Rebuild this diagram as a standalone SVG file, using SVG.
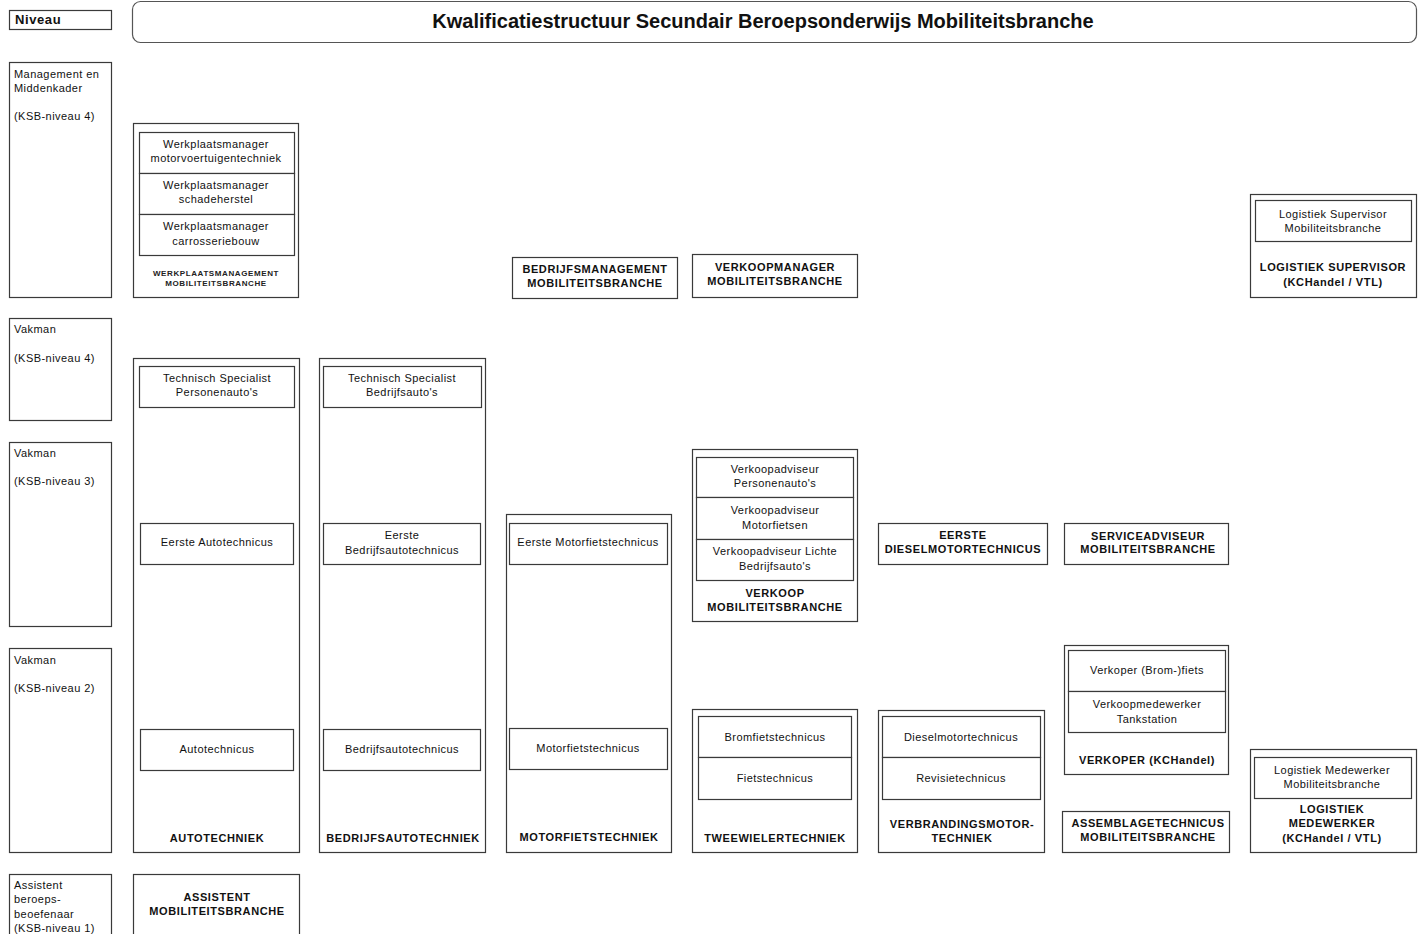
<svg xmlns="http://www.w3.org/2000/svg" width="1419" height="934" viewBox="0 0 1419 934">
<style>
.b{fill:#fff;stroke:#3a3a3a;stroke-width:1.2}
.t{font-family:"Liberation Sans",Arial,sans-serif;font-size:11px;letter-spacing:0.45px;fill:#111;text-anchor:middle;dominant-baseline:central}
.l{font-family:"Liberation Sans",Arial,sans-serif;font-size:11px;letter-spacing:0.45px;fill:#111;dominant-baseline:central}
.h{font-family:"Liberation Sans",Arial,sans-serif;font-size:11px;font-weight:bold;letter-spacing:0.6px;fill:#111;text-anchor:middle;dominant-baseline:central}
.s{font-family:"Liberation Sans",Arial,sans-serif;font-size:8px;font-weight:bold;letter-spacing:0.6px;fill:#222;text-anchor:middle;dominant-baseline:central}
</style>
<rect x="0" y="0" width="1419" height="934" fill="#fff"/>
<g id="connectors"/>

<g id="niveau">
<rect class="b" x="9.5" y="10.5" width="102" height="19"/>
<text x="15" y="19" font-family="Liberation Sans,Arial,sans-serif" font-size="13" font-weight="bold" letter-spacing="0.6" dominant-baseline="central" fill="#111">Niveau</text>
</g>
<g id="title">
<rect x="132.5" y="1.5" width="1284" height="41" rx="8" fill="#fff" stroke="#555" stroke-width="1.2"/>
<text x="763" y="21" font-family="Liberation Sans,Arial,sans-serif" font-size="20" font-weight="bold" text-anchor="middle" dominant-baseline="central" fill="#111">Kwalificatiestructuur Secundair Beroepsonderwijs Mobiliteitsbranche</text>
</g>

<g id="lvl-management">
<rect class="b" x="9.5" y="62.5" width="102" height="235"/>
<text class="l" x="14" y="74">Management en</text>
<text class="l" x="14" y="88">Middenkader</text>
<text class="l" x="14" y="116">(KSB-niveau 4)</text>
</g>
<g id="lvl-vakman4">
<rect class="b" x="9.5" y="318.5" width="102" height="102"/>
<text class="l" x="14" y="329">Vakman</text>
<text class="l" x="14" y="358">(KSB-niveau 4)</text>
</g>
<g id="lvl-vakman3">
<rect class="b" x="9.5" y="442.5" width="102" height="184"/>
<text class="l" x="14" y="453">Vakman</text>
<text class="l" x="14" y="481">(KSB-niveau 3)</text>
</g>
<g id="lvl-vakman2">
<rect class="b" x="9.5" y="648.5" width="102" height="204"/>
<text class="l" x="14" y="660">Vakman</text>
<text class="l" x="14" y="688">(KSB-niveau 2)</text>
</g>
<g id="lvl-assistent">
<rect class="b" x="9.5" y="874.5" width="102" height="70"/>
<text class="l" x="14" y="885">Assistent</text>
<text class="l" x="14" y="899">beroeps-</text>
<text class="l" x="14" y="914">beoefenaar</text>
<text class="l" x="14" y="928">(KSB-niveau 1)</text>
</g>

<g id="werkplaatsmanagement">
<rect class="b" x="133.5" y="123.5" width="165" height="174"/>
<rect class="b" x="139.5" y="132.5" width="155" height="41"/>
<rect class="b" x="139.5" y="173.5" width="155" height="41"/>
<rect class="b" x="139.5" y="214.5" width="155" height="41"/>
<text class="t" x="216" y="144">Werkplaatsmanager</text>
<text class="t" x="216" y="158">motorvoertuigentechniek</text>
<text class="t" x="216" y="185">Werkplaatsmanager</text>
<text class="t" x="216" y="199">schadeherstel</text>
<text class="t" x="216" y="226">Werkplaatsmanager</text>
<text class="t" x="216" y="241">carrosseriebouw</text>
<text class="s" x="216" y="273">WERKPLAATSMANAGEMENT</text>
<text class="s" x="216" y="283">MOBILITEITSBRANCHE</text>
</g>

<g id="bedrijfsmanagement">
<rect class="b" x="512.5" y="257.5" width="165" height="41"/>
<text class="h" x="595" y="269">BEDRIJFSMANAGEMENT</text>
<text class="h" x="595" y="283">MOBILITEITSBRANCHE</text>
</g>
<g id="verkoopmanager">
<rect class="b" x="692.5" y="254.5" width="165" height="43"/>
<text class="h" x="775" y="267">VERKOOPMANAGER</text>
<text class="h" x="775" y="281">MOBILITEITSBRANCHE</text>
</g>

<g id="logistiek-supervisor">
<rect class="b" x="1250.5" y="194.5" width="166" height="103"/>
<rect class="b" x="1255.5" y="200.5" width="156" height="41"/>
<text class="t" x="1333" y="214">Logistiek Supervisor</text>
<text class="t" x="1333" y="228">Mobiliteitsbranche</text>
<text class="h" x="1333" y="267">LOGISTIEK SUPERVISOR</text>
<text class="h" x="1333" y="282">(KCHandel / VTL)</text>
</g>

<g id="autotechniek">
<rect class="b" x="133.5" y="358.5" width="166" height="494"/>
<rect class="b" x="139.5" y="366.5" width="155" height="41"/>
<text class="t" x="217" y="378">Technisch Specialist</text>
<text class="t" x="217" y="392">Personenauto's</text>
<rect class="b" x="140.5" y="523.5" width="153" height="41"/>
<text class="t" x="217" y="542">Eerste Autotechnicus</text>
<rect class="b" x="140.5" y="729.5" width="153" height="41"/>
<text class="t" x="217" y="749">Autotechnicus</text>
<text class="h" x="217" y="838">AUTOTECHNIEK</text>
</g>

<g id="bedrijfsautotechniek">
<rect class="b" x="319.5" y="358.5" width="166" height="494"/>
<rect class="b" x="323.5" y="366.5" width="158" height="41"/>
<text class="t" x="402" y="378">Technisch Specialist</text>
<text class="t" x="402" y="392">Bedrijfsauto's</text>
<rect class="b" x="323.5" y="523.5" width="157" height="41"/>
<text class="t" x="402" y="535">Eerste</text>
<text class="t" x="402" y="550">Bedrijfsautotechnicus</text>
<rect class="b" x="323.5" y="729.5" width="157" height="41"/>
<text class="t" x="402" y="749">Bedrijfsautotechnicus</text>
<text class="h" x="403" y="838">BEDRIJFSAUTOTECHNIEK</text>
</g>

<g id="motorfietstechniek">
<rect class="b" x="506.5" y="514.5" width="165" height="338"/>
<rect class="b" x="509.5" y="523.5" width="158" height="41"/>
<text class="t" x="588" y="542">Eerste Motorfietstechnicus</text>
<rect class="b" x="509.5" y="728.5" width="158" height="41"/>
<text class="t" x="588" y="748">Motorfietstechnicus</text>
<text class="h" x="589" y="837">MOTORFIETSTECHNIEK</text>
</g>

<g id="verkoop">
<rect class="b" x="692.5" y="449.5" width="165" height="172"/>
<rect class="b" x="696.5" y="457.5" width="157" height="40"/>
<rect class="b" x="696.5" y="497.5" width="157" height="42"/>
<rect class="b" x="696.5" y="539.5" width="157" height="41"/>
<text class="t" x="775" y="469">Verkoopadviseur</text>
<text class="t" x="775" y="483">Personenauto's</text>
<text class="t" x="775" y="510">Verkoopadviseur</text>
<text class="t" x="775" y="525">Motorfietsen</text>
<text class="t" x="775" y="551">Verkoopadviseur Lichte</text>
<text class="t" x="775" y="566">Bedrijfsauto's</text>
<text class="h" x="775" y="593">VERKOOP</text>
<text class="h" x="775" y="607">MOBILITEITSBRANCHE</text>
</g>

<g id="eerste-dieselmotortechnicus">
<rect class="b" x="878.5" y="523.5" width="169" height="41"/>
<text class="h" x="963" y="535">EERSTE</text>
<text class="h" x="963" y="549">DIESELMOTORTECHNICUS</text>
</g>
<g id="serviceadviseur">
<rect class="b" x="1064.5" y="523.5" width="164" height="41"/>
<text class="h" x="1148" y="536">SERVICEADVISEUR</text>
<text class="h" x="1148" y="549">MOBILITEITSBRANCHE</text>
</g>

<g id="tweewielertechniek">
<rect class="b" x="692.5" y="709.5" width="165" height="143"/>
<rect class="b" x="698.5" y="716.5" width="153" height="41"/>
<rect class="b" x="698.5" y="757.5" width="153" height="42"/>
<text class="t" x="775" y="737">Bromfietstechnicus</text>
<text class="t" x="775" y="778">Fietstechnicus</text>
<text class="h" x="775" y="838">TWEEWIELERTECHNIEK</text>
</g>

<g id="verbrandingsmotortechniek">
<rect class="b" x="878.5" y="710.5" width="166" height="142"/>
<rect class="b" x="882.5" y="716.5" width="158" height="41"/>
<rect class="b" x="882.5" y="757.5" width="158" height="42"/>
<text class="t" x="961" y="737">Dieselmotortechnicus</text>
<text class="t" x="961" y="778">Revisietechnicus</text>
<text class="h" x="962" y="824">VERBRANDINGSMOTOR-</text>
<text class="h" x="962" y="838">TECHNIEK</text>
</g>

<g id="verkoper">
<rect class="b" x="1064.5" y="645.5" width="164" height="129"/>
<rect class="b" x="1068.5" y="650.5" width="157" height="41"/>
<rect class="b" x="1068.5" y="691.5" width="157" height="41"/>
<text class="t" x="1147" y="670">Verkoper (Brom-)fiets</text>
<text class="t" x="1147" y="704">Verkoopmedewerker</text>
<text class="t" x="1147" y="719">Tankstation</text>
<text class="h" x="1147" y="760">VERKOPER (KCHandel)</text>
</g>

<g id="assemblagetechnicus">
<rect class="b" x="1062.5" y="811.5" width="167" height="41"/>
<text class="h" x="1148" y="823">ASSEMBLAGETECHNICUS</text>
<text class="h" x="1148" y="837">MOBILITEITSBRANCHE</text>
</g>

<g id="logistiek-medewerker">
<rect class="b" x="1250.5" y="749.5" width="166" height="103"/>
<rect class="b" x="1254.5" y="757.5" width="157" height="41"/>
<text class="t" x="1332" y="770">Logistiek Medewerker</text>
<text class="t" x="1332" y="784">Mobiliteitsbranche</text>
<text class="h" x="1332" y="809">LOGISTIEK</text>
<text class="h" x="1332" y="823">MEDEWERKER</text>
<text class="h" x="1332" y="838">(KCHandel / VTL)</text>
</g>

<g id="assistent-mobiliteitsbranche">
<rect class="b" x="133.5" y="874.5" width="166" height="70"/>
<text class="h" x="217" y="897">ASSISTENT</text>
<text class="h" x="217" y="911">MOBILITEITSBRANCHE</text>
</g>
</svg>
